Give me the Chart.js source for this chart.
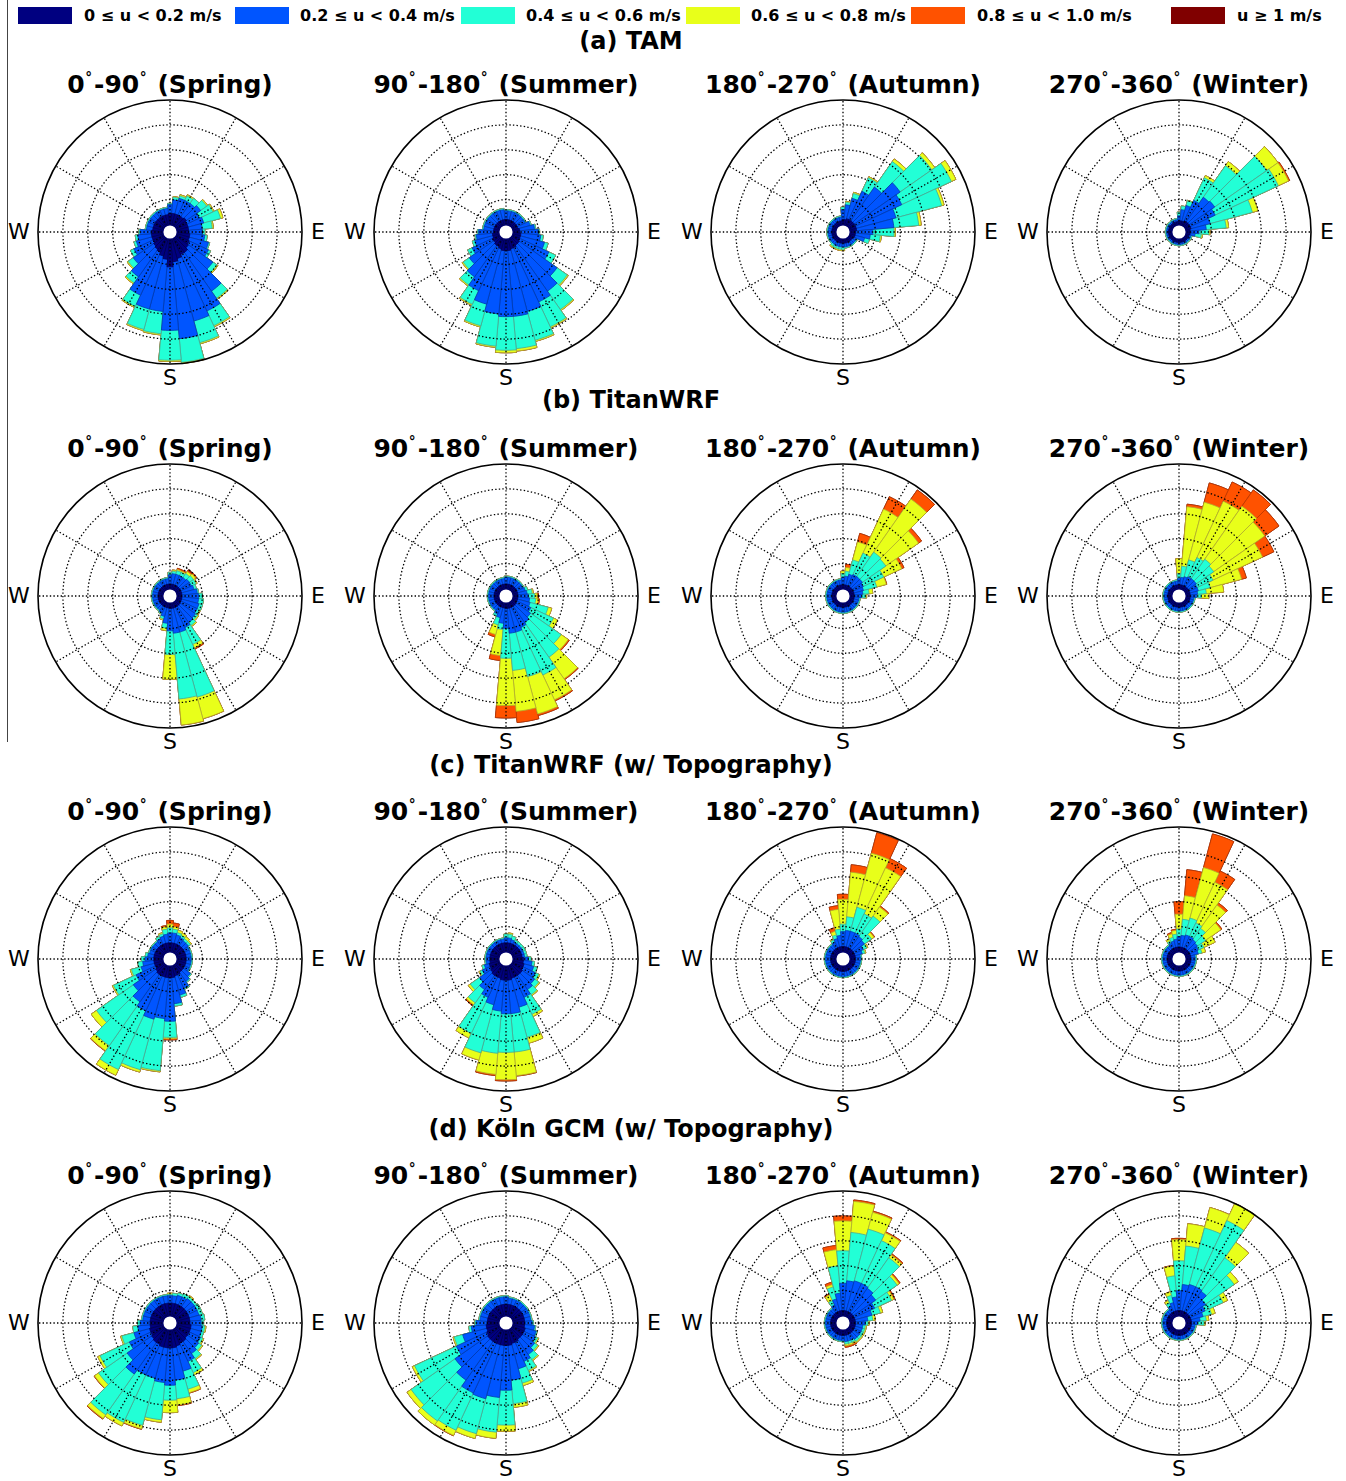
<!DOCTYPE html>
<html lang="en">
<head>
<meta charset="utf-8">
<title>Near-surface wind roses by season</title>
<script src="https://cdn.jsdelivr.net/npm/chart.js@4.4.1/dist/chart.umd.min.js"></script>
<style>
html, body { margin: 0; padding: 0; background: #fff; }
#page { position: relative; width: 1346px; height: 1481px; overflow: hidden; font-family: 'DejaVu Sans', sans-serif; color: #000; }
.t { position: absolute; white-space: nowrap; line-height: 1; }
.c { transform: translate(-50%, -50%); }
.lbox { position: absolute; width: 54px; height: 17px; }
.ltxt { font-weight: bold; font-size: 16px; transform: translateY(-50%); }
.hdr { font-weight: bold; font-size: 24px; }
.ttl { font-weight: bold; font-size: 25px; }
.ttl sup { font-size: 0.55em; vertical-align: 0.8em; margin: 0 0.15em 0 0.04em; }
.cmp { font-size: 22px; }
canvas { position: absolute; }
#rule { position: absolute; left: 7px; top: 0; width: 1px; height: 742px; background: #444; }
</style>
</head>
<body>
<div id="page"><div id="rule"></div></div>
<script>
// ---- categories ----
const DIRECTIONS = ['0','10','20','30','40','50','60','70','80','90','100','110',
  '120','130','140','150','160','170','180','190','200','210','220','230',
  '240','250','260','270','280','290','300','310','320','330','340','350'];
const SPEED_BINS = ['0 \u2264 u < 0.2 m/s', '0.2 \u2264 u < 0.4 m/s', '0.4 \u2264 u < 0.6 m/s',
  '0.6 \u2264 u < 0.8 m/s', '0.8 \u2264 u < 1.0 m/s', 'u \u2265 1 m/s'];
const BIN_COLORS = ['#000080', '#0055ff', '#22ffd6', '#e8ff1a', '#ff5200', '#800000'];
const BIN_EDGES  = ['#000050', '#0038b0', '#46a894', '#b0b030', '#c03a00', '#4a0000'];
const MODEL_TITLES = ['(a) TAM', '(b) TitanWRF', '(c) TitanWRF (w/ Topography)', '(d) K\u00f6ln GCM (w/ Topography)'];
const SEASON_FROM = ['0', '90', '180', '270'];
const SEASON_TO = ['90', '180', '270', '360'];
const SEASON_NAMES = ['Spring', 'Summer', 'Autumn', 'Winter'];
const RING_VALUES = [1, 2, 3, 4, 5];
const R_MIN = -0.3;
const SPOKE_BEARINGS = [0, 30, 60, 90, 120, 150, 180, 210, 240, 270, 300, 330];

// ---- frequencies per speed bin (rows) and direction (columns, 0..350 deg) ----
const TAM_SPRING = [
  [0.45,0.45,0.45,0.45,0.45,0.5, 0.45,0.45,0.45,0.45,0.5,0.5, 0.55,0.6,0.7,0.7,0.8,0.9, 1.1,0.8,0.7,0.6,0.55,0.5, 0.45,0.45,0.45,0.45,0.4,0.4, 0.4,0.4,0.4,0.4,0.4,0.4],
  [0.35,0.55,0.65,0.65,0.65,0.7, 0.55,0.65,0.55,0.55,0.6,0.8, 0.85,1.2,1.9,2.5,2.6,3.1, 2.55,2.1,2.2,1.9,1.35,1.0, 0.85,0.65,0.55,0.45,0.25,0.25, 0.25,0.25,0.25,0.25,0.25,0.25],
  [0.05,0.1,0.1,0.2,0.25,0.3, 0.6,0.7,0.4,0.1,0.1,0.05, 0.1,0.2,0.35,0.65,0.9,0.95, 1.2,0.9,0.85,0.5,0.3,0.25, 0.15,0.1,0.1,0.05,0.05,0.05, 0.05,0.05,0.05,0.05,0.05,0.05],
  [0,0.03,0.05,0.05,0,0.05, 0.05,0.1,0.05,0,0,0, 0,0.05,0.05,0.05,0.05,0.05, 0.05,0.05,0.05,0.05,0.05,0.05, 0,0,0,0,0,0, 0,0,0,0,0,0],
  [0,0,0,0,0,0, 0,0,0,0,0,0, 0,0,0,0,0,0, 0,0,0,0,0,0, 0,0,0,0,0,0, 0,0,0,0,0,0],
  [0,0,0,0,0,0, 0,0,0,0,0,0, 0,0,0,0,0,0, 0,0,0,0,0,0, 0,0,0,0,0,0, 0,0,0,0,0,0]
];
const TAM_SUMMER = [
  [0.2,0.2,0.2,0.2,0.2,0.2, 0.2,0.2,0.25,0.25,0.3,0.3, 0.3,0.35,0.35,0.4,0.4,0.45, 0.45,0.45,0.4,0.35,0.35,0.3, 0.3,0.25,0.25,0.2,0.2,0.2, 0.2,0.2,0.2,0.2,0.2,0.2],
  [0.35,0.35,0.35,0.35,0.35,0.35, 0.35,0.5,0.6,0.75,0.8,1.0, 1.3,1.85,2.25,2.4,2.6,2.65, 2.65,2.55,2.3,1.95,1.55,1.2, 0.9,0.75,0.65,0.6,0.4,0.4, 0.4,0.4,0.4,0.4,0.4,0.4],
  [0.05,0.05,0.05,0.05,0.05,0.05, 0.05,0.05,0.05,0.05,0.1,0.15, 0.3,0.5,0.9,1.1,1.2,1.3, 1.35,1.3,0.9,0.6,0.4,0.3, 0.2,0.1,0.05,0.05,0.05,0.05, 0.05,0.05,0.05,0.05,0.05,0.05],
  [0,0,0,0,0,0, 0,0,0,0,0,0, 0,0.05,0.05,0.05,0.05,0.1, 0.1,0.05,0.05,0.05,0.05,0.05, 0,0,0,0,0,0, 0,0,0,0,0,0],
  [0,0,0,0,0,0, 0,0,0,0,0,0, 0,0,0,0,0,0, 0,0,0,0,0,0, 0,0,0,0,0,0, 0,0,0,0,0,0],
  [0,0,0,0,0,0, 0,0,0,0,0,0, 0,0,0,0,0,0, 0,0,0,0,0,0, 0,0,0,0,0,0, 0,0,0,0,0,0]
];
const TAM_AUTUMN = [
  [0.2,0.2,0.25,0.25,0.25,0.25, 0.25,0.25,0.25,0.2,0.2,0.2, 0.15,0.15,0.15,0.15,0.15,0.15, 0.15,0.15,0.15,0.15,0.15,0.15, 0.15,0.15,0.15,0.15,0.15,0.15, 0.15,0.15,0.15,0.15,0.15,0.15],
  [0.4,0.6,0.85,1.25,1.65,2.25, 2.05,1.65,1.5,0.7,0.6,0.4, 0.15,0.15,0.15,0.15,0.15,0.15, 0.15,0.15,0.15,0.15,0.15,0.15, 0.15,0.15,0.15,0.15,0.15,0.15, 0.15,0.15,0.15,0.15,0.15,0.15],
  [0.1,0.1,0.2,0.6,1.25,1.55, 2.2,1.9,1.0,0.85,0.4,0.2, 0.05,0.05,0.05,0.05,0.05,0.05, 0.1,0.1,0.1,0.1,0.1,0.05, 0.05,0.05,0.05,0.05,0.05,0.05, 0.05,0.05,0.05,0.05,0.05,0.05],
  [0,0.03,0.05,0.05,0.13,0.15, 0.2,0.1,0.1,0.05,0.05,0, 0,0,0,0,0,0, 0.05,0.05,0.05,0.05,0.05,0, 0,0,0,0,0,0, 0,0,0,0,0,0],
  [0,0,0,0,0,0, 0,0,0,0,0,0, 0,0,0,0,0,0, 0,0,0,0,0,0, 0,0,0,0,0,0, 0,0,0,0,0,0],
  [0,0,0,0,0,0, 0,0,0,0,0,0, 0,0,0,0,0,0, 0,0,0,0,0,0, 0,0,0,0,0,0, 0,0,0,0,0,0]
];
const TAM_WINTER = [
  [0.15,0.15,0.15,0.2,0.2,0.2, 0.2,0.2,0.15,0.15,0.15,0.12, 0.12,0.12,0.12,0.12,0.12,0.12, 0.12,0.12,0.12,0.12,0.12,0.12, 0.12,0.12,0.12,0.12,0.12,0.12, 0.12,0.12,0.12,0.12,0.12,0.12],
  [0.2,0.45,0.65,0.9,1.2,1.25, 1.1,0.8,0.65,0.35,0.2,0.08, 0.08,0.08,0.08,0.08,0.08,0.08, 0.08,0.08,0.08,0.08,0.08,0.08, 0.08,0.08,0.08,0.08,0.08,0.08, 0.08,0.08,0.08,0.08,0.08,0.08],
  [0.15,0.15,0.2,1.0,1.55,2.55, 2.8,1.75,0.8,0.4,0.25,0.05, 0.05,0.05,0.05,0.05,0.05,0.05, 0.05,0.05,0.05,0.05,0.05,0.05, 0.05,0.05,0.05,0.05,0.05,0.05, 0.05,0.05,0.05,0.05,0.05,0.05],
  [0,0,0.02,0.1,0.2,0.55, 0.45,0.23,0.1,0.05,0.05,0, 0,0,0,0,0,0, 0,0,0,0,0,0, 0,0,0,0,0,0, 0,0,0,0,0,0],
  [0,0,0,0,0,0, 0.05,0,0,0,0,0, 0,0,0,0,0,0, 0,0,0,0,0,0, 0,0,0,0,0,0, 0,0,0,0,0,0],
  [0,0,0,0,0,0, 0,0,0,0,0,0, 0,0,0,0,0,0, 0,0,0,0,0,0, 0,0,0,0,0,0, 0,0,0,0,0,0]
];
const TITAN_SPRING = [
  [0.18,0.18,0.18,0.18,0.18,0.18, 0.18,0.18,0.18,0.18,0.18,0.18, 0.18,0.2,0.2,0.2,0.2,0.2, 0.2,0.18,0.18,0.18,0.18,0.18, 0.18,0.18,0.18,0.18,0.18,0.18, 0.18,0.18,0.18,0.18,0.18,0.18],
  [0.37,0.42,0.42,0.42,0.42,0.47, 0.47,0.52,0.62,0.67,0.67,0.72, 0.72,0.75,0.8,0.9,1.0,1.0, 0.9,0.62,0.37,0.27,0.22,0.22, 0.22,0.22,0.22,0.22,0.22,0.22, 0.22,0.22,0.22,0.22,0.22,0.22],
  [0.1,0.1,0.15,0.15,0.2,0.2, 0.2,0.1,0.05,0.15,0.2,0.15, 0.1,0.1,0.15,0.75,2.7,2.65, 0.95,0.2,0.1,0.05,0.05,0.05, 0.05,0.05,0.05,0.05,0.05,0.05, 0.05,0.05,0.05,0.05,0.05,0.05],
  [0,0.05,0.05,0.05,0.1,0.1, 0.05,0,0,0,0,0, 0.05,0.05,0.05,0.15,0.9,1.05, 1.0,0.1,0.05,0,0,0, 0,0,0,0,0,0, 0,0,0,0,0,0],
  [0,0,0.05,0.05,0.05,0.05, 0,0,0,0,0,0, 0,0,0,0.05,0,0, 0,0,0,0,0,0, 0,0,0,0,0,0, 0,0,0,0,0,0],
  [0,0,0,0,0.05,0, 0,0,0,0,0,0, 0,0,0,0,0,0, 0,0,0,0,0,0, 0,0,0,0,0,0, 0,0,0,0,0,0]
];
const TITAN_SUMMER = [
  [0.18,0.18,0.18,0.18,0.18,0.18, 0.18,0.18,0.18,0.18,0.18,0.18, 0.18,0.2,0.2,0.2,0.2,0.2, 0.2,0.18,0.18,0.18,0.18,0.18, 0.18,0.18,0.18,0.18,0.18,0.18, 0.18,0.18,0.18,0.18,0.18,0.18],
  [0.27,0.27,0.27,0.27,0.27,0.27, 0.27,0.32,0.37,0.42,0.47,0.52, 0.62,0.7,0.8,0.9,1.0,1.0, 0.8,0.62,0.42,0.32,0.22,0.22, 0.22,0.22,0.22,0.22,0.22,0.22, 0.22,0.22,0.22,0.22,0.22,0.22],
  [0.05,0.05,0.05,0.05,0.05,0.05, 0.05,0.1,0.2,0.25,0.25,0.75, 1.0,1.5,1.7,2.1,1.85,1.5, 1.2,0.25,0.3,0.1,0.05,0.05, 0.05,0.05,0.05,0.05,0.05,0.05, 0.05,0.05,0.05,0.05,0.05,0.05],
  [0,0,0,0,0,0, 0,0,0.05,0.1,0.1,0.15, 0.18,0.35,1.06,1.1,1.55,1.65, 1.9,1.05,0.4,0,0,0, 0,0,0,0,0,0, 0,0,0,0,0,0],
  [0,0,0,0,0,0, 0,0,0,0.05,0.05,0, 0,0.05,0.04,0.05,0.07,0.45, 0.5,0.2,0.1,0,0,0, 0,0,0,0,0,0, 0,0,0,0,0,0],
  [0,0,0,0,0,0, 0,0,0,0,0,0, 0,0,0,0,0,0, 0,0,0,0,0,0, 0,0,0,0,0,0, 0,0,0,0,0,0]
];
const TITAN_AUTUMN = [
  [0.15,0.15,0.15,0.15,0.15,0.15, 0.15,0.15,0.15,0.15,0.15,0.15, 0.15,0.15,0.15,0.15,0.15,0.15, 0.15,0.15,0.15,0.15,0.15,0.15, 0.15,0.15,0.15,0.15,0.15,0.15, 0.15,0.15,0.15,0.15,0.15,0.15],
  [0.3,0.35,0.45,0.5,0.5,0.5, 0.45,0.4,0.35,0.3,0.2,0.2, 0.2,0.2,0.2,0.2,0.2,0.2, 0.2,0.2,0.2,0.2,0.2,0.2, 0.2,0.2,0.2,0.2,0.2,0.2, 0.2,0.2,0.2,0.2,0.2,0.2],
  [0.15,0.2,0.6,0.95,1.2,1.15, 0.9,0.55,0.25,0.15,0.05,0.05, 0.05,0.05,0.05,0.05,0.05,0.05, 0.05,0.05,0.05,0.05,0.05,0.05, 0.05,0.05,0.05,0.05,0.05,0.05, 0.05,0.05,0.05,0.05,0.05,0.05],
  [0.1,0.15,0.75,1.95,2.6,1.6, 0.8,0.4,0.15,0.05,0,0, 0,0,0,0,0,0, 0,0,0,0,0,0, 0,0,0,0,0,0, 0,0,0,0,0,0],
  [0,0.13,0.35,0.55,0.45,0.15, 0.1,0.02,0,0,0,0, 0,0,0,0,0,0, 0,0,0,0,0,0, 0,0,0,0,0,0, 0,0,0,0,0,0],
  [0,0,0,0,0,0, 0,0,0,0,0,0, 0,0,0,0,0,0, 0,0,0,0,0,0, 0,0,0,0,0,0, 0,0,0,0,0,0]
];
const TITAN_WINTER = [
  [0.15,0.15,0.15,0.15,0.15,0.15, 0.15,0.15,0.15,0.15,0.15,0.15, 0.15,0.15,0.15,0.15,0.15,0.15, 0.15,0.15,0.15,0.15,0.15,0.15, 0.15,0.15,0.15,0.15,0.15,0.15, 0.15,0.15,0.15,0.15,0.15,0.15],
  [0.25,0.3,0.35,0.4,0.4,0.4, 0.35,0.35,0.3,0.25,0.15,0.15, 0.15,0.15,0.15,0.15,0.15,0.15, 0.15,0.15,0.15,0.15,0.15,0.15, 0.15,0.15,0.15,0.15,0.15,0.15, 0.15,0.15,0.15,0.15,0.15,0.15],
  [0.2,0.45,0.7,0.85,0.95,0.85, 0.7,0.5,0.35,0.2,0.05,0.05, 0.05,0.05,0.05,0.05,0.05,0.05, 0.05,0.05,0.05,0.05,0.05,0.05, 0.05,0.05,0.05,0.05,0.05,0.05, 0.05,0.05,0.05,0.05,0.05,0.05],
  [0.6,2.4,2.4,2.5,2.6,2.5, 2.2,1.3,0.7,0.3,0,0, 0,0,0,0,0,0, 0,0,0,0,0,0, 0,0,0,0,0,0, 0,0,0,0,0,0],
  [0,0.1,0.8,0.85,0.8,0.7, 0.5,0.2,0,0,0,0, 0,0,0,0,0,0, 0,0,0,0,0,0, 0,0,0,0,0,0, 0,0,0,0,0,0],
  [0,0,0,0,0,0, 0,0,0,0,0,0, 0,0,0,0,0,0, 0,0,0,0,0,0, 0,0,0,0,0,0, 0,0,0,0,0,0]
];
const TOPO_SPRING = [
  [0.35,0.35,0.35,0.35,0.35,0.35, 0.35,0.35,0.35,0.35,0.35,0.35, 0.35,0.35,0.35,0.4,0.4,0.45, 0.45,0.45,0.45,0.45,0.45,0.4, 0.35,0.35,0.35,0.35,0.35,0.35, 0.35,0.35,0.35,0.35,0.35,0.35],
  [0.4,0.4,0.35,0.3,0.25,0.25, 0.2,0.2,0.2,0.2,0.2,0.2, 0.2,0.35,0.45,0.6,0.8,1.05, 1.75,1.65,1.75,1.55,1.35,1.1, 0.85,0.55,0.45,0.35,0.25,0.2, 0.2,0.2,0.2,0.25,0.3,0.35],
  [0.2,0.15,0.1,0.1,0.1,0.1, 0.05,0.05,0.05,0.05,0.05,0.05, 0.05,0.05,0.05,0.05,0.1,0.1, 0.65,2.1,2.1,2.6,2.15,1.8, 1.0,0.4,0.2,0.15,0.1,0.05, 0.05,0.05,0.05,0.1,0.1,0.2],
  [0.15,0.1,0.1,0.1,0.1,0.05, 0,0,0,0,0,0, 0,0,0,0,0,0, 0.05,0.05,0.1,0.25,0.25,0.26, 0.05,0.05,0,0,0,0, 0,0,0,0,0.05,0.1],
  [0.15,0.15,0,0,0,0, 0,0,0,0,0,0, 0,0,0,0,0,0, 0.05,0,0,0,0.02,0, 0,0,0,0,0,0, 0,0,0,0,0,0.05],
  [0,0,0,0,0,0, 0,0,0,0,0,0, 0,0,0,0,0,0, 0,0,0,0,0,0, 0,0,0,0,0,0, 0,0,0,0,0,0]
];
const TOPO_SUMMER = [
  [0.35,0.35,0.35,0.35,0.35,0.35, 0.35,0.35,0.35,0.4,0.4,0.45, 0.45,0.5,0.5,0.5,0.5,0.55, 0.55,0.55,0.5,0.5,0.5,0.45, 0.4,0.4,0.35,0.35,0.35,0.35, 0.35,0.35,0.35,0.35,0.35,0.35],
  [0.2,0.2,0.15,0.1,0.1,0.1, 0.1,0.1,0.1,0.2,0.35,0.4, 0.55,0.6,0.7,0.9,1.2,1.35, 1.35,1.25,1.1,0.9,0.7,0.55, 0.35,0.2,0.15,0.15,0.15,0.15, 0.15,0.15,0.15,0.15,0.15,0.15],
  [0.15,0.15,0.15,0.1,0.1,0.1, 0.1,0.1,0.1,0.1,0.1,0.15, 0.15,0.2,0.25,0.75,1.25,1.55, 1.55,1.7,2.0,1.6,0.65,0.45, 0.1,0.1,0.05,0.05,0.05,0.05, 0.05,0.05,0.05,0.05,0.05,0.05],
  [0,0.05,0,0,0,0, 0,0,0,0,0,0, 0.05,0.05,0.05,0.1,0.25,0.95, 1.1,0.85,0.3,0.2,0.1,0.1, 0.05,0,0,0,0,0, 0,0,0,0,0,0],
  [0,0,0,0,0,0, 0,0,0,0,0,0, 0,0,0,0,0,0.02, 0.05,0.05,0,0,0.05,0, 0,0,0,0,0,0, 0,0,0,0,0,0],
  [0,0,0,0,0,0, 0,0,0,0,0,0, 0,0,0,0,0,0, 0,0,0,0,0,0, 0,0,0,0,0,0, 0,0,0,0,0,0]
];
const TOPO_AUTUMN = [
  [0.2,0.2,0.2,0.2,0.2,0.2, 0.2,0.2,0.2,0.2,0.2,0.2, 0.2,0.2,0.2,0.2,0.2,0.2, 0.2,0.2,0.2,0.2,0.2,0.2, 0.2,0.2,0.2,0.2,0.2,0.2, 0.2,0.2,0.2,0.2,0.2,0.2],
  [0.6,0.65,0.65,0.65,0.6,0.55, 0.4,0.3,0.2,0.2,0.2,0.2, 0.2,0.2,0.2,0.2,0.2,0.2, 0.2,0.2,0.2,0.2,0.2,0.2, 0.2,0.2,0.2,0.2,0.2,0.2, 0.2,0.2,0.2,0.25,0.35,0.45],
  [0.3,0.55,1.0,0.85,1.0,0.35, 0.15,0.1,0.05,0.05,0.05,0.05, 0.05,0.05,0.05,0.05,0.05,0.05, 0.05,0.05,0.05,0.05,0.05,0.05, 0.05,0.05,0.05,0.05,0.05,0.05, 0.05,0.05,0.05,0.1,0.15,0.25],
  [1.0,1.8,2.25,2.04,0.45,0.12, 0.05,0.05,0,0,0,0, 0,0,0,0,0,0, 0,0,0,0,0,0, 0,0,0,0,0,0, 0,0,0,0.05,0.15,0.8],
  [0.2,0.3,0.85,0.41,0.05,0.03, 0,0,0,0,0,0, 0,0,0,0,0,0, 0,0,0,0,0,0, 0,0,0,0,0,0, 0,0,0,0,0.15,0.15],
  [0,0,0,0,0,0, 0,0,0,0,0,0, 0,0,0,0,0,0, 0,0,0,0,0,0, 0,0,0,0,0,0, 0,0,0,0,0,0]
];
const TOPO_WINTER = [
  [0.18,0.18,0.18,0.18,0.18,0.18, 0.18,0.18,0.18,0.18,0.18,0.18, 0.18,0.18,0.18,0.18,0.18,0.18, 0.18,0.18,0.18,0.18,0.18,0.18, 0.18,0.18,0.18,0.18,0.18,0.18, 0.18,0.18,0.18,0.18,0.18,0.18],
  [0.42,0.47,0.52,0.52,0.47,0.42, 0.37,0.32,0.17,0.17,0.17,0.17, 0.17,0.17,0.17,0.17,0.17,0.17, 0.17,0.17,0.17,0.17,0.17,0.17, 0.17,0.17,0.17,0.17,0.17,0.17, 0.17,0.17,0.17,0.22,0.27,0.32],
  [0.3,0.65,0.7,0.6,0.55,0.4, 0.25,0.15,0.05,0.05,0.05,0.05, 0.05,0.05,0.05,0.05,0.05,0.05, 0.05,0.05,0.05,0.05,0.05,0.05, 0.05,0.05,0.05,0.05,0.05,0.05, 0.05,0.05,0.05,0.1,0.15,0.2],
  [0.6,0.95,2.1,1.8,1.15,0.75, 0.5,0.15,0,0,0,0, 0,0,0,0,0,0, 0,0,0,0,0,0, 0,0,0,0,0,0, 0,0,0,0.1,0.15,0.15],
  [0.5,1.05,1.4,0.5,0.1,0.05, 0,0,0,0,0,0, 0,0,0,0,0,0, 0,0,0,0,0,0, 0,0,0,0,0,0, 0,0,0,0,0.05,0.05],
  [0,0,0,0,0,0, 0,0,0,0,0,0, 0,0,0,0,0,0, 0,0,0,0,0,0, 0,0,0,0,0,0, 0,0,0,0,0,0]
];
const KOELN_SPRING = [
  [0.5,0.5,0.5,0.5,0.5,0.5, 0.5,0.5,0.5,0.5,0.55,0.55, 0.55,0.55,0.6,0.6,0.65,0.7, 0.7,0.7,0.7,0.65,0.65,0.6, 0.55,0.55,0.5,0.5,0.5,0.5, 0.5,0.5,0.5,0.5,0.5,0.5],
  [0.3,0.3,0.35,0.35,0.4,0.4, 0.4,0.4,0.45,0.45,0.45,0.45, 0.5,0.55,0.6,0.8,1.05,1.3, 1.5,1.4,1.3,1.35,1.55,1.2, 0.95,0.65,0.5,0.4,0.3,0.3, 0.3,0.3,0.3,0.3,0.3,0.3],
  [0.05,0.1,0.1,0.15,0.1,0.1, 0.15,0.15,0.15,0.1,0.1,0.1, 0.1,0.15,0.25,0.5,0.75,0.75, 0.6,1.5,1.95,2.1,2.0,1.4, 1.3,0.5,0.2,0.1,0.05,0.05, 0.05,0.05,0.05,0.05,0.05,0.05],
  [0.05,0,0,0,0.05,0, 0,0,0,0,0.05,0, 0.05,0.05,0.05,0.1,0.15,0.25, 0.5,0.1,0.15,0.16,0.18,0.2, 0.1,0.05,0,0,0,0, 0,0,0,0,0,0],
  [0,0,0,0,0,0, 0,0,0,0,0,0, 0,0,0,0,0.02,0.03, 0,0,0.02,0,0.03,0.02, 0,0,0,0,0,0, 0,0,0,0,0,0],
  [0,0,0,0,0,0, 0,0,0,0,0,0, 0,0,0,0,0,0, 0,0,0,0,0,0, 0,0,0,0,0,0, 0,0,0,0,0,0]
];
const KOELN_SUMMER = [
  [0.45,0.45,0.45,0.45,0.45,0.45, 0.45,0.45,0.45,0.45,0.45,0.5, 0.5,0.5,0.5,0.55,0.55,0.6, 0.6,0.6,0.6,0.6,0.6,0.6, 0.55,0.5,0.5,0.45,0.45,0.45, 0.45,0.45,0.45,0.45,0.45,0.45],
  [0.3,0.25,0.25,0.25,0.25,0.25, 0.25,0.25,0.25,0.3,0.4,0.45, 0.5,0.6,0.75,0.85,1.05,1.4, 1.8,2.1,2.25,2.2,1.9,1.6, 1.35,1.0,0.6,0.45,0.3,0.3, 0.3,0.3,0.3,0.3,0.3,0.3],
  [0.05,0.05,0.05,0.05,0.05,0.05, 0.05,0.05,0.05,0.05,0.05,0.05, 0.1,0.15,0.25,0.4,0.6,0.95, 1.4,1.4,1.45,1.65,2.0,2.15, 1.85,0.35,0.1,0.05,0.05,0.05, 0.05,0.05,0.05,0.05,0.05,0.05],
  [0,0,0,0,0,0, 0,0,0,0,0,0, 0.05,0.05,0.05,0.05,0.1,0.15, 0.25,0.25,0.2,0.23,0.2,0.2, 0.1,0.05,0,0,0,0, 0,0,0,0,0,0],
  [0,0,0,0,0,0, 0,0,0,0,0,0, 0,0,0,0,0,0, 0,0,0,0.02,0,0, 0,0,0,0,0,0, 0,0,0,0,0,0],
  [0,0,0,0,0,0, 0,0,0,0,0,0, 0,0,0,0,0,0, 0,0,0,0,0,0, 0,0,0,0,0,0, 0,0,0,0,0,0]
];
const KOELN_AUTUMN = [
  [0.2,0.2,0.2,0.2,0.2,0.2, 0.2,0.2,0.2,0.2,0.2,0.2, 0.2,0.2,0.2,0.2,0.2,0.2, 0.2,0.2,0.2,0.2,0.2,0.2, 0.2,0.2,0.2,0.2,0.2,0.2, 0.2,0.2,0.2,0.2,0.2,0.2],
  [1.1,1.2,1.25,1.25,1.2,1.1, 0.9,0.7,0.5,0.4,0.3,0.3, 0.3,0.3,0.3,0.25,0.25,0.25, 0.2,0.2,0.2,0.2,0.2,0.2, 0.2,0.2,0.2,0.2,0.2,0.2, 0.2,0.2,0.2,0.3,0.5,0.7],
  [1.3,1.95,2.15,1.9,1.5,1.05, 0.75,0.35,0.2,0.1,0.1,0.1, 0.1,0.1,0.1,0.1,0.1,0.1, 0.05,0.05,0.05,0.05,0.05,0.05, 0.05,0.05,0.05,0.05,0.05,0.05, 0.05,0.05,0.05,0.2,0.5,1.1],
  [1.2,1.25,0.7,0.35,0.15,0.1, 0.1,0.1,0.1,0.05,0.05,0.05, 0.05,0.05,0.05,0.07,0.07,0.07, 0,0,0,0,0,0, 0,0,0,0,0,0, 0,0,0,0.25,0.1,0.65],
  [0.2,0.06,0.05,0.04,0.05,0.05, 0.05,0,0,0,0,0, 0,0,0,0.06,0.06,0.06, 0,0,0,0,0,0, 0,0,0,0,0,0, 0,0,0,0.05,0.1,0.17],
  [0,0,0,0,0,0, 0,0,0,0,0,0, 0,0,0,0,0,0, 0,0,0,0,0,0, 0,0,0,0,0,0, 0,0,0,0,0,0]
];
const KOELN_WINTER = [
  [0.2,0.2,0.2,0.2,0.2,0.2, 0.2,0.2,0.2,0.2,0.2,0.2, 0.2,0.2,0.2,0.2,0.2,0.2, 0.2,0.2,0.2,0.2,0.2,0.2, 0.2,0.2,0.2,0.2,0.2,0.2, 0.2,0.2,0.2,0.2,0.2,0.2],
  [0.8,1.05,1.1,1.1,1.05,0.8, 0.65,0.5,0.35,0.25,0.15,0.15, 0.15,0.15,0.15,0.15,0.15,0.15, 0.15,0.15,0.15,0.15,0.15,0.15, 0.15,0.15,0.15,0.15,0.15,0.15, 0.15,0.15,0.15,0.25,0.35,0.55],
  [1.2,1.55,2.35,2.94,1.65,1.4, 0.8,0.35,0.25,0.25,0.05,0.05, 0.05,0.05,0.05,0.05,0.05,0.05, 0.05,0.05,0.05,0.05,0.05,0.05, 0.05,0.05,0.05,0.05,0.05,0.05, 0.05,0.05,0.05,0.15,0.3,0.85],
  [0.85,0.9,0.85,0.76,0.76,0.2, 0.2,0.15,0.1,0.05,0,0, 0,0,0,0,0,0, 0,0,0,0,0,0, 0,0,0,0,0,0, 0,0,0,0.1,0.15,0.4],
  [0.05,0,0,0,0,0, 0,0,0,0,0,0, 0,0,0,0,0,0, 0,0,0,0,0,0, 0,0,0,0,0,0, 0,0,0,0,0,0.02],
  [0,0,0,0,0,0, 0,0,0,0,0,0, 0,0,0,0,0,0, 0,0,0,0,0,0, 0,0,0,0,0,0, 0,0,0,0,0,0]
];

// one row of panels per model, one column per season
const PANELS = [
  [TAM_SPRING, TAM_SUMMER, TAM_AUTUMN, TAM_WINTER],
  [TITAN_SPRING, TITAN_SUMMER, TITAN_AUTUMN, TITAN_WINTER],
  [TOPO_SPRING, TOPO_SUMMER, TOPO_AUTUMN, TOPO_WINTER],
  [KOELN_SPRING, KOELN_SUMMER, KOELN_AUTUMN, KOELN_WINTER]
];

// ---- layout ----
const COL_X = [170, 506, 843, 1179];
const ROW_Y = [232, 596, 959, 1323];
const HEADER_Y = [41, 400, 765, 1129];
const HEADER_X = 631;
const CANVAS_SIZE = 270;
const LEGEND_BOX_X = [18, 235, 461, 686, 911, 1171];
const LEGEND_TEXT_X = [84, 300, 526, 751, 977, 1237];

const page = document.getElementById('page');

function addText(cls, html, x, y) {
  const d = document.createElement('div');
  d.className = 't ' + cls;
  d.innerHTML = html;
  d.style.left = x + 'px';
  d.style.top = y + 'px';
  page.appendChild(d);
  return d;
}

// legend strip
SPEED_BINS.forEach((label, k) => {
  const b = document.createElement('div');
  b.className = 'lbox';
  b.style.left = LEGEND_BOX_X[k] + 'px';
  b.style.top = '7px';
  b.style.background = BIN_COLORS[k];
  page.appendChild(b);
  const t = addText('ltxt', '', LEGEND_TEXT_X[k], 16);
  t.textContent = label;
});

// dotted spokes and the central hole, drawn over the petals
const roseFrame = {
  id: 'roseFrame',
  afterDraw(chart) {
    const s = chart.scales.r;
    const ctx = chart.ctx;
    const cx = s.xCenter, cy = s.yCenter;
    const R = s.getDistanceFromCenterForValue(RING_VALUES[RING_VALUES.length - 1]);
    ctx.save();
    ctx.strokeStyle = '#000';
    ctx.lineWidth = 1.3;
    ctx.setLineDash([1.4, 2.2]);
    SPOKE_BEARINGS.forEach(b => {
      const a = (b - 90) * Math.PI / 180;
      ctx.beginPath();
      ctx.moveTo(cx, cy);
      ctx.lineTo(cx + R * Math.cos(a), cy + R * Math.sin(a));
      ctx.stroke();
    });
    ctx.setLineDash([]);
    const h = s.getDistanceFromCenterForValue(0);
    ctx.beginPath();
    ctx.arc(cx, cy, h, 0, Math.PI * 2);
    ctx.fillStyle = '#fff';
    ctx.fill();
    ctx.lineWidth = 1.8;
    ctx.strokeStyle = '#00006a';
    ctx.stroke();
    ctx.restore();
  }
};

function cumulative(rows) {
  const out = [];
  let run = DIRECTIONS.map(() => 0);
  rows.forEach(r => {
    run = run.map((v, i) => v + r[i]);
    out.push(run);
  });
  return out;
}

function makeRose(rows, cx, cy) {
  const canvas = document.createElement('canvas');
  canvas.width = CANVAS_SIZE;
  canvas.height = CANVAS_SIZE;
  canvas.style.left = (cx - CANVAS_SIZE / 2) + 'px';
  canvas.style.top = (cy - CANVAS_SIZE / 2) + 'px';
  page.appendChild(canvas);
  const last = RING_VALUES.length - 1;
  new Chart(canvas, {
    type: 'polarArea',
    data: {
      labels: DIRECTIONS,
      datasets: cumulative(rows).map((d, k) => ({
        label: SPEED_BINS[k],
        data: d,
        backgroundColor: BIN_COLORS[k],
        borderColor: BIN_EDGES[k],
        borderWidth: 0.8
      }))
    },
    options: {
      responsive: false,
      animation: false,
      devicePixelRatio: 1,
      layout: { padding: 3 },
      plugins: { legend: { display: false }, tooltip: { enabled: false } },
      scales: {
        r: {
          min: R_MIN,
          max: RING_VALUES[last],
          startAngle: -5,
          ticks: { display: false },
          afterBuildTicks: s => { s.ticks = RING_VALUES.map(v => ({ value: v })); },
          grid: {
            z: 1,
            circular: true,
            color: '#000',
            lineWidth: c => (c.index === last ? 1.6 : 1.3)
          },
          border: { dash: c => (c.index === last ? [] : [1.4, 2.2]) },
          angleLines: { display: false },
          pointLabels: { display: false }
        }
      }
    },
    plugins: [roseFrame]
  });
}

PANELS.forEach((row, r) => {
  addText('hdr c', MODEL_TITLES[r], HEADER_X, HEADER_Y[r]);
  row.forEach((rows, c) => {
    const cx = COL_X[c], cy = ROW_Y[r];
    addText('ttl c', SEASON_FROM[c] + '<sup>\u00b0</sup>-' + SEASON_TO[c] + '<sup>\u00b0</sup> (' + SEASON_NAMES[c] + ')', cx, cy - 148);
    addText('cmp c', 'W', cx - 151, cy);
    addText('cmp c', 'E', cx + 148, cy);
    addText('cmp c', 'S', cx, cy + 146);
    makeRose(rows, cx, cy);
  });
});
</script>
</body>
</html>
